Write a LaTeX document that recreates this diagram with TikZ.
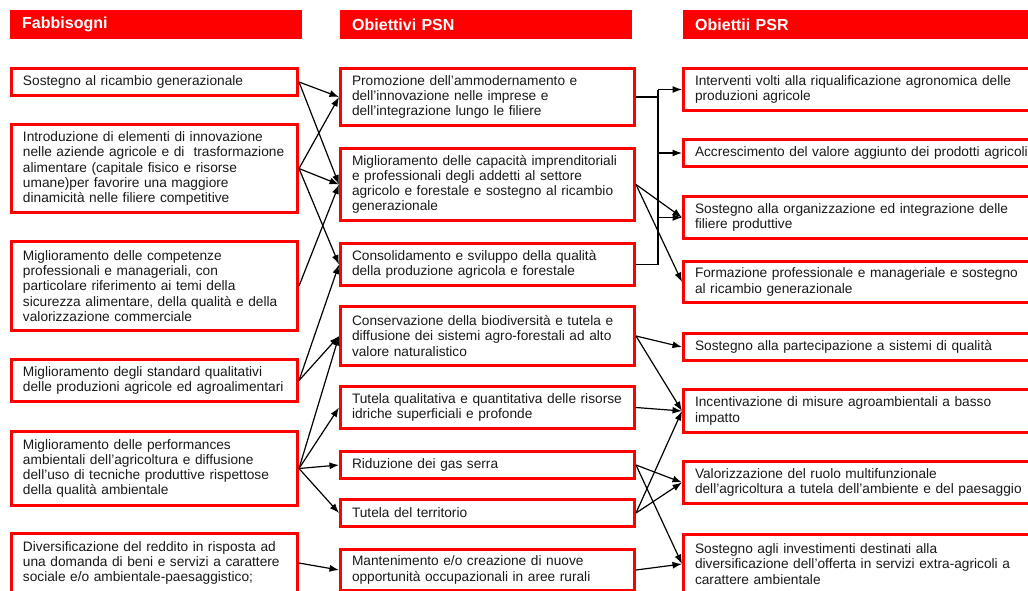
\documentclass[tikz,border=0pt]{standalone}
\usepackage{fontspec}
\setmainfont{Liberation Sans}
\usetikzlibrary{arrows.meta}
\usetikzlibrary{positioning}
\tikzstyle{red_box} = [
    draw=red, 
    line width=3pt, 
    anchor=west, 
    align=left, 
    inner xsep=11.5pt, 
    inner ysep=0pt, 
    text=black!90, 
    font=\fontsize{13.7}{15.2}\selectfont
]
\tikzstyle{need_box} = [red_box, text width=263pt]
\tikzstyle{psn_box} = [red_box, text width=271pt]
\tikzstyle{psr_box} = [red_box, text width=347pt]
\tikzstyle{head_bar} = [
    fill=red, 
    anchor=west, 
    align=left, 
    inner xsep=12pt, 
    minimum height=29pt, 
    text=white, 
    font=\fontsize{16}{18}\selectfont\bfseries
]
\tikzstyle{link} = [-{Latex[length=9.5pt,width=7pt]}, line width=1.2pt]
\tikzstyle{wire} = [line width=1.2pt]

\begin{document}
\begin{tikzpicture}[x=1pt, y=-1pt]
\clip (0,0) rectangle (1028,590);

% column headers
\node [head_bar, text width=268pt] (hF) at (10,24.5) {Fabbisogni};
\node [head_bar, text width=268pt] (hP) at (340,24.5) {Obiettivi PSN};
\node [head_bar, text width=336pt] (hR) at (683,24.5) {Obiettii PSR};

% Fabbisogni
\node [need_box, minimum height=27pt] (F1) at (10,82) {Sostegno al ricambio generazionale};
\node [need_box, minimum height=88pt] (F2) at (10,168.5) {Introduzione di elementi di innovazione\\ nelle aziende agricole e di \ trasformazione\\ alimentare (capitale fisico e risorse\\ umane)per favorire una maggiore\\ dinamicità nelle filiere competitive};
\node [need_box, minimum height=89pt] (F3) at (10,286) {Miglioramento delle competenze\\ professionali e manageriali, con\\ particolare riferimento ai temi della\\ sicurezza alimentare, della qualità e della\\ valorizzazione commerciale};
\node [need_box, minimum height=42pt] (F4) at (10,380.5) {Miglioramento degli standard qualitativi\\ delle produzioni agricole ed agroalimentari};
\node [need_box, minimum height=74pt] (F5) at (10,468.5) {Miglioramento delle performances\\ ambientali dell’agricoltura e diffusione\\ dell’uso di tecniche produttive rispettose\\ della qualità ambientale};
\node [need_box, minimum height=59pt] (F6) at (10,563) {Diversificazione del reddito in risposta ad\\ una domanda di beni e servizi a carattere\\ sociale e/o ambientale-paesaggistico;};

% Obiettivi PSN
\node [psn_box, minimum height=57pt] (P1) at (339,97) {Promozione dell’ammodernamento e\\ dell’innovazione nelle imprese e\\ dell’integrazione lungo le filiere};
\node [psn_box, minimum height=72pt] (P2) at (339,184.5) {Miglioramento delle capacità imprenditoriali\\ e professionali degli addetti al settore\\ agricolo e forestale e sostegno al ricambio\\ generazionale};
\node [psn_box, minimum height=42pt] (P3) at (339,264.5) {Consolidamento e sviluppo della qualità\\ della produzione agricola e forestale};
\node [psn_box, minimum height=59pt] (P4) at (339,336) {Conservazione della biodiversità e tutela e\\ diffusione dei sistemi agro-forestali ad alto\\ valore naturalistico};
\node [psn_box, minimum height=42pt] (P5) at (339,407.5) {Tutela qualitativa e quantitativa delle risorse\\ idriche superficiali e profonde};
\node [psn_box, minimum height=27pt] (P6) at (339,465) {Riduzione dei gas serra};
\node [psn_box, minimum height=27pt] (P7) at (339,513) {Tutela del territorio};
\node [psn_box, minimum height=41pt] (P8) at (339,570) {Mantenimento e/o creazione di nuove\\ opportunità occupazionali in aree rurali};

% Obiettivi PSR
\node [psr_box, minimum height=42pt] (R1) at (682,89.5) {Interventi volti alla riqualificazione agronomica delle\\ produzioni agricole};
\node [psr_box, minimum height=27pt] (R2) at (682,153) {Accrescimento del valore aggiunto dei prodotti agricoli};
\node [psr_box, minimum height=42pt] (R3) at (682,217.5) {Sostegno alla organizzazione ed integrazione delle\\ filiere produttive};
\node [psr_box, minimum height=41pt] (R4) at (682,282) {Formazione professionale e manageriale e sostegno\\ al ricambio generazionale};
\node [psr_box, minimum height=27pt] (R5) at (682,347) {Sostegno alla partecipazione a sistemi di qualità};
\node [psr_box, minimum height=43pt] (R6) at (682,411) {Incentivazione di misure agroambientali a basso\\ impatto};
\node [psr_box, minimum height=42pt] (R7) at (682,482.5) {Valorizzazione del ruolo multifunzionale\\ dell’agricoltura a tutela dell’ambiente e del paesaggio};
\node [psr_box, minimum height=59pt] (R8) at (682,564) {Sostegno agli investimenti destinati alla\\ diversificazione dell’offerta in servizi extra-agricoli a\\ carattere ambientale};

% Fabbisogni -> PSN
\draw [link] (F1.east) -- (P1.west);
\draw [link] (F1.east) -- (P2.west);
\draw [link] (F2.east) -- (P1.west);
\draw [link] (F2.east) -- (P2.west);
\draw [link] (F2.east) -- (P3.west);
\draw [link] (F3.east) -- (P2.west);
\draw [link] (F4.east) -- (P3.west);
\draw [link] (F4.east) -- (P4.west);
\draw [link] (F5.east) -- (P4.west);
\draw [link] (F5.east) -- (P5.west);
\draw [link] (F5.east) -- (P6.west);
\draw [link] (F5.east) -- (P7.west);
\draw [link] (F6.east) -- (P8.west);

% PSN -> PSR
\coordinate (bus) at (658,0);
\draw [wire] (P1.east) -- (P1.east -| bus);
\draw [wire] (P3.east) -- (P3.east -| bus);
\draw [wire] (R1.west -| bus) -- (P3.east -| bus);
\draw [link] (R1.west -| bus) -- (R1.west);
\draw [link] (R2.west -| bus) -- (R2.west);
\draw [link] (R3.west -| bus) -- (R3.west);
\draw [link] (P2.east) -- (R3.west);
\draw [link] (P2.east) -- (R4.west);
\draw [link] (P4.east) -- (R5.west);
\draw [link] (P4.east) -- (R6.west);
\draw [link] (P5.east) -- (R6.west);
\draw [link] (P6.east) -- (R7.west);
\draw [link] (P6.east) -- (R8.west);
\draw [link] (P7.east) -- (R6.west);
\draw [link] (P7.east) -- (R7.west);
\draw [link] (P8.east) -- (R8.west);
\end{tikzpicture}
\end{document}
